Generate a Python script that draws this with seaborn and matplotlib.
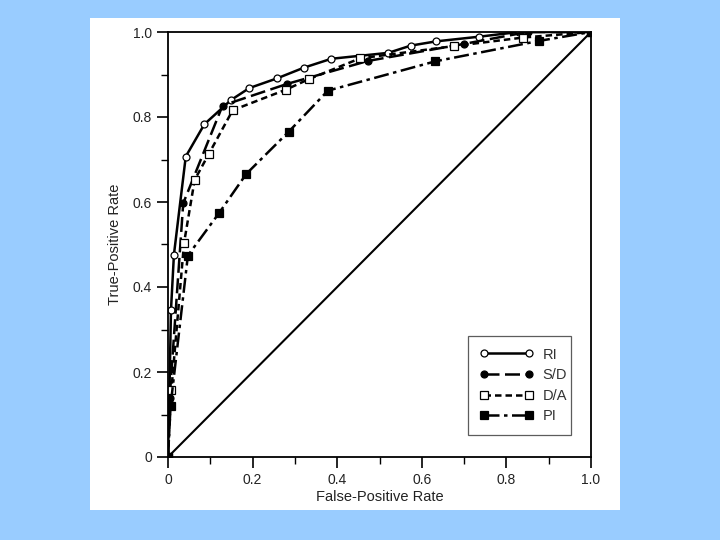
import matplotlib
matplotlib.use("Agg")
import matplotlib.pyplot as plt
from matplotlib.patches import Rectangle
from matplotlib.ticker import MultipleLocator
import seaborn as sns

# ROC curves
RI_FPR = [0, 0.003, 0.007, 0.014, 0.042, 0.086, 0.149, 0.192, 0.258, 0.321, 0.386, 0.521, 0.574, 0.634, 0.736, 0.829, 1.0]
RI_TPR = [0, 0.13, 0.345, 0.476, 0.707, 0.783, 0.84, 0.868, 0.891, 0.916, 0.937, 0.951, 0.968, 0.978, 0.989, 1.0, 1.0]
SD_FPR = [0, 0.004, 0.036, 0.129, 0.282, 0.473, 0.700, 0.850, 1.0]
SD_TPR = [0, 0.14, 0.597, 0.827, 0.878, 0.932, 0.972, 1.0, 1.0]
DA_FPR = [0, 0.008, 0.038, 0.063, 0.097, 0.153, 0.278, 0.333, 0.454, 0.677, 0.840, 1.0]
DA_TPR = [0, 0.158, 0.504, 0.652, 0.714, 0.816, 0.864, 0.889, 0.938, 0.967, 0.987, 1.0]
PI_FPR = [0, 0.006, 0.047, 0.12, 0.185, 0.285, 0.378, 0.632, 0.877, 1.0]
PI_TPR = [0, 0.12, 0.474, 0.573, 0.666, 0.765, 0.862, 0.931, 0.979, 1.0]
CHANCE = [0, 1]

TICKS = [0, 0.2, 0.4, 0.6, 0.8, 1.0]
TICK_LABELS = ["0", "0.2", "0.4", "0.6", "0.8", "1.0"]

SERIES = [
    ("RI", RI_FPR, RI_TPR, "-", "o", "white", 5),
    ("S/D", SD_FPR, SD_TPR, (0, (6, 2.2)), "o", "black", 5),
    ("D/A", DA_FPR, DA_TPR, (0, (2.6, 1.6)), "s", "white", 5.5),
    ("PI", PI_FPR, PI_TPR, (0, (6, 1.8, 1.4, 1.8)), "s", "black", 5.5),
]

sns.set_theme(style="white")
plt.rcParams["font.family"] = ["Liberation Sans", "DejaVu Sans"]

fig = plt.figure(figsize=(7.2, 5.4), dpi=100)
fig.patch.set_facecolor("#99ccff")
# white card behind the chart
fig.patches.append(Rectangle((90 / 720, 1 - 510 / 540), 530 / 720, 492 / 540,
                             transform=fig.transFigure, facecolor="white",
                             edgecolor="none", zorder=-10))
ax = fig.add_axes([168 / 720, 1 - 457 / 540, 423 / 720, 425 / 540])
ax.set_zorder(5)
ax.set_facecolor("white")

sns.lineplot(x=CHANCE, y=CHANCE, ax=ax, color="black", linewidth=1.5)
for label, fx, ty, ls, mk, mfc, ms in SERIES:
    sns.lineplot(x=fx, y=ty, ax=ax, color="black", linewidth=1.8,
                 linestyle=ls, marker=mk, markersize=ms,
                 markerfacecolor=mfc, markeredgecolor="black",
                 markeredgewidth=0.9, estimator=None, sort=False, label=label)

ax.set_xlim(0, 1)
ax.set_ylim(0, 1)
ax.set_xticks(TICKS)
ax.set_xticklabels(TICK_LABELS)
ax.set_yticks(TICKS)
ax.set_yticklabels(TICK_LABELS)
ax.xaxis.set_minor_locator(MultipleLocator(0.1))
ax.yaxis.set_minor_locator(MultipleLocator(0.1))
ax.tick_params(which="major", direction="out", length=8, width=1.2,
               color="black", labelsize=10, labelcolor="#222222",
               bottom=True, left=True)
ax.tick_params(which="minor", direction="out", length=5, width=1.0,
               color="black", bottom=True, left=True)
for sp in ax.spines.values():
    sp.set_color("black")
    sp.set_linewidth(1.3)

ax.set_xlabel("False-Positive Rate", fontsize=10.5, color="#222222", labelpad=2)
ax.set_ylabel("True-Positive Rate", fontsize=10.5, color="#222222", labelpad=8)

leg = ax.legend(loc="lower left", bbox_to_anchor=(0.709, 0.052, 0.244, 0.23),
                mode="expand", borderaxespad=0, numpoints=2, handlelength=3.7,
                fontsize=10.5, frameon=True, fancybox=False, borderpad=0.8,
                labelspacing=0.45, handletextpad=0.6)
leg.get_frame().set_edgecolor("#333333")
leg.get_frame().set_linewidth(0.9)
for t in leg.get_texts():
    t.set_color("#333333")

fig.savefig("out.png", dpi=100, facecolor=fig.get_facecolor())
